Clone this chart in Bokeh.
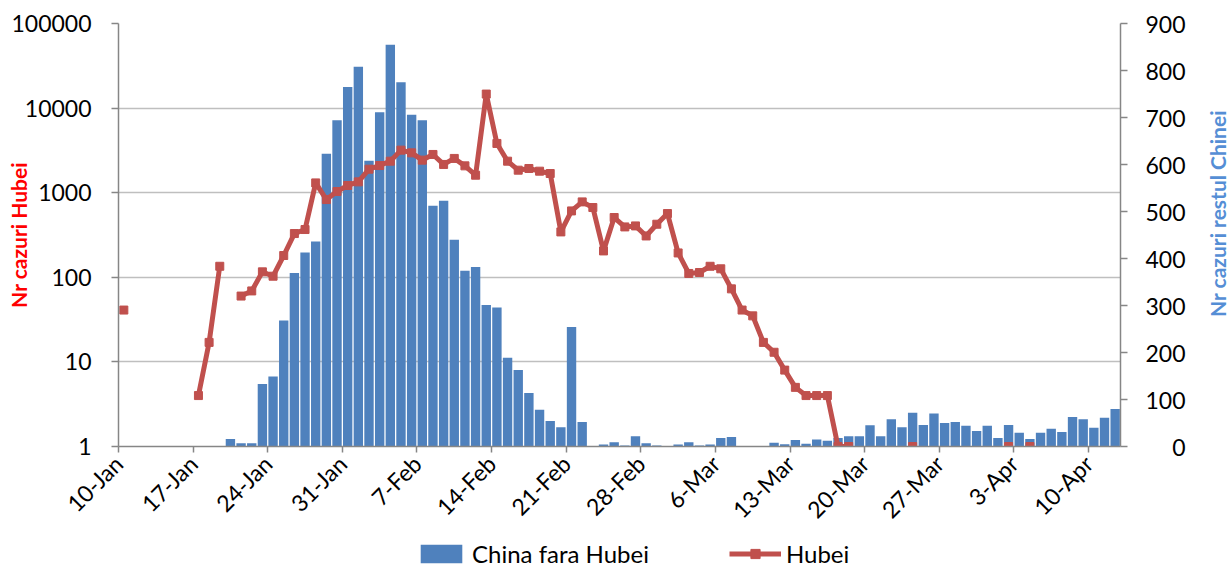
import numpy as np
from bokeh.plotting import figure
from bokeh.layouts import row, column
from bokeh.models import (Range1d, LinearAxis, LinearScale, FixedTicker, NumeralTickFormatter,
                          Legend, LegendItem, Label)
from bokeh.embed import file_html
from bokeh.resources import INLINE

# ---- data -----------------------------------------------------------------
# one category per day, from 10-Jan (index 0) to 13-Apr (index 93)
tick_labels = ["10-Jan", "17-Jan", "24-Jan", "31-Jan", "7-Feb", "14-Feb", "21-Feb",
               "28-Feb", "6-Mar", "13-Mar", "20-Mar", "27-Mar", "3-Apr", "10-Apr"]
tick_days = [0, 7, 14, 21, 28, 35, 42, 49, 56, 63, 70, 77, 84, 91]

# new cases in China outside Hubei (right axis)
china_fara_hubei = [
    0, 0, 0, 0, 0, 0, 0, 0, 0, 0,
    16, 7, 7, 133, 149, 268, 369, 413, 436, 623,
    694, 765, 808, 608, 711, 855, 775, 706, 694, 512,
    523, 440, 374, 382, 301, 296, 189, 163, 114, 78,
    54, 41, 254, 52, 0, 4, 9, 2, 22, 7,
    2, 1, 4, 9, 2, 4, 18, 20, 1, 1,
    1, 8, 5, 14, 6, 15, 12, 18, 22, 22,
    45, 22, 58, 41, 72, 46, 70, 50, 52, 44,
    33, 44, 18, 46, 29, 16, 29, 38, 31, 63,
    58, 40, 61, 80]

# new cases in Hubei (left, log axis); 0 = cannot be shown on the log axis
hubei = [
    41, 0, 0, 0, 0, 0, 0, 4, 17, 135,
    0, 60, 69, 116, 103, 181, 329, 367, 1306, 830,
    1033, 1217, 1343, 1897, 2095, 2358, 3185, 2958, 2426, 2831,
    2158, 2541, 2077, 1610, 14650, 3821, 2358, 1846, 1933, 1796,
    1686, 344, 609, 779, 668, 205, 509, 394, 405, 308,
    424, 567, 194, 111, 114, 135, 126, 73, 41, 35,
    17, 13, 8, 5, 4, 4, 4, 1, 1, 0,
    0, 0, 0, 0, 1, 0, 0, 0, 0, 0,
    0, 0, 0, 1, 0, 1, 0, 0, 0, 0,
    0, 0, 0, 0]

left_ticks = [1, 10, 100, 1000, 10000, 100000]
right_ticks = [0, 100, 200, 300, 400, 500, 600, 700, 800, 900]

# ---- derived ----------------------------------------------------------------
n_days = len(china_fara_hubei)
x_center = np.arange(n_days) + 0.5
hub = np.array(hubei, dtype=float)
hub_line = np.where(hub > 0, hub, np.nan)
mask = hub > 0

AXIS_COL = "#868686"
BAR_COL = "#4F81BD"
LINE_COL = "#C0504D"
W_MAIN, H_MAIN = 1195, 538
B_TOP, B_BOTTOM = 23, 92

p = figure(width=W_MAIN, height=H_MAIN, output_backend="svg", toolbar_location=None,
           y_axis_type="log", x_range=Range1d(0, n_days),
           y_range=Range1d(left_ticks[0], left_ticks[-1]),
           min_border_left=118, min_border_right=75, min_border_top=B_TOP,
           min_border_bottom=B_BOTTOM)
p.outline_line_color = None
p.background_fill_color = "white"

p.extra_y_ranges = {"r": Range1d(right_ticks[0], right_ticks[-1])}
p.extra_y_scales = {"r": LinearScale()}

# bars (right axis)
bars = p.vbar(x=x_center, top=china_fara_hubei, bottom=0, width=0.88, y_range_name="r",
              fill_color=BAR_COL, line_color=None)

# Hubei line (left log axis)
ln = p.line(x_center, hub_line, line_color=LINE_COL, line_width=5, line_join="round")
sc = p.scatter(x_center[mask], hub[mask], marker="square", size=8,
               fill_color=LINE_COL, line_color=LINE_COL)

# left axis
ly = p.yaxis[0]
ly.ticker = FixedTicker(ticks=left_ticks)
ly.formatter = NumeralTickFormatter(format="0")
ly.minor_tick_line_color = None
ly.major_tick_in = 0
ly.major_tick_out = 7
ly.major_label_standoff = 20
ly.axis_label = "Nr cazuri Hubei"
ly.axis_label_standoff = -23
ly.axis_label_text_color = "#FF0000"
ly.axis_label_text_font = "Lato"
ly.axis_label_text_font_style = "bold"
ly.axis_label_text_font_size = "21px"

# right axis
ry = LinearAxis(y_range_name="r", ticker=FixedTicker(ticks=right_ticks))
ry.minor_tick_line_color = None
ry.major_tick_in = 0
ry.major_tick_out = 7
ry.major_label_standoff = 18
ry.major_label_overrides = {0: "\u2007\u20070"}
p.add_layout(ry, "right")

# x axis
xa = p.xaxis[0]
xa.ticker = FixedTicker(ticks=tick_days)
xa.major_label_overrides = {d: lab for d, lab in zip(tick_days, tick_labels)}
xa.major_label_orientation = np.pi / 4
xa.minor_tick_line_color = None
xa.major_tick_in = 0
xa.major_tick_out = 6
xa.major_label_standoff = 7

for ax in (ly, ry, xa):
    ax.axis_line_color = AXIS_COL
    ax.axis_line_width = 1.5
    ax.major_tick_line_color = AXIS_COL
    ax.major_tick_line_width = 1.5
    ax.major_label_text_font = "Lato"
    ax.major_label_text_font_size = "23px"
    ax.major_label_text_color = "black"

p.xgrid.visible = False
p.ygrid.grid_line_color = "#BFBFBF"
p.ygrid.grid_line_width = 1.5

# narrow strip on the right holding the right axis title (reads bottom to top);
# its frame is aligned with the main frame, so y is measured from the frame bottom
p2 = figure(width=32, height=H_MAIN, output_backend="svg", toolbar_location=None,
            x_axis_location=None, y_axis_location=None, min_border=0,
            x_range=Range1d(0, 1), y_range=Range1d(0, 1))
p2.outline_line_color = None
p2.grid.visible = False
p2.add_layout(Label(x=22, y=(H_MAIN - B_BOTTOM) - 213, x_units="screen", y_units="screen",
                    text="Nr cazuri restul Chinei", angle=90, angle_units="deg",
                    text_align="center", text_baseline="middle",
                    text_font="Lato", text_font_style="bold", text_font_size="21px",
                    text_color="#558ED5"))

# strip below holding the legend; hidden copies of the series give the legend glyphs
p3 = figure(width=W_MAIN, height=30, output_backend="svg", toolbar_location=None,
            x_axis_location=None, y_axis_location=None, min_border=0,
            x_range=Range1d(0, n_days), y_range=Range1d(-2, -1))
p3.outline_line_color = None
p3.grid.visible = False
lb = p3.vbar(x=x_center, top=china_fara_hubei, bottom=0, width=0.88,
             fill_color=BAR_COL, line_color=None, visible=False)
ll = p3.line(x_center, hub_line, line_color=LINE_COL, line_width=5, visible=False)
ls = p3.scatter(x_center[mask], hub[mask], marker="square", size=8,
                fill_color=LINE_COL, line_color=LINE_COL, visible=False)
legend = Legend(items=[LegendItem(label="China fara Hubei", renderers=[lb]),
                       LegendItem(label="Hubei", renderers=[ll, ls])],
                orientation="horizontal", location=(415, 0),
                glyph_width=52, glyph_height=23, label_standoff=5, spacing=80,
                padding=0, margin=0, border_line_color=None, background_fill_alpha=0,
                inactive_fill_alpha=0, click_policy="none",
                label_text_font="Lato", label_text_font_size="24px",
                label_text_color="black")
p3.add_layout(legend)

layout = column(row(p, p2, spacing=0), p3, spacing=0)
open("out.html", "w").write(file_html(layout, INLINE))
